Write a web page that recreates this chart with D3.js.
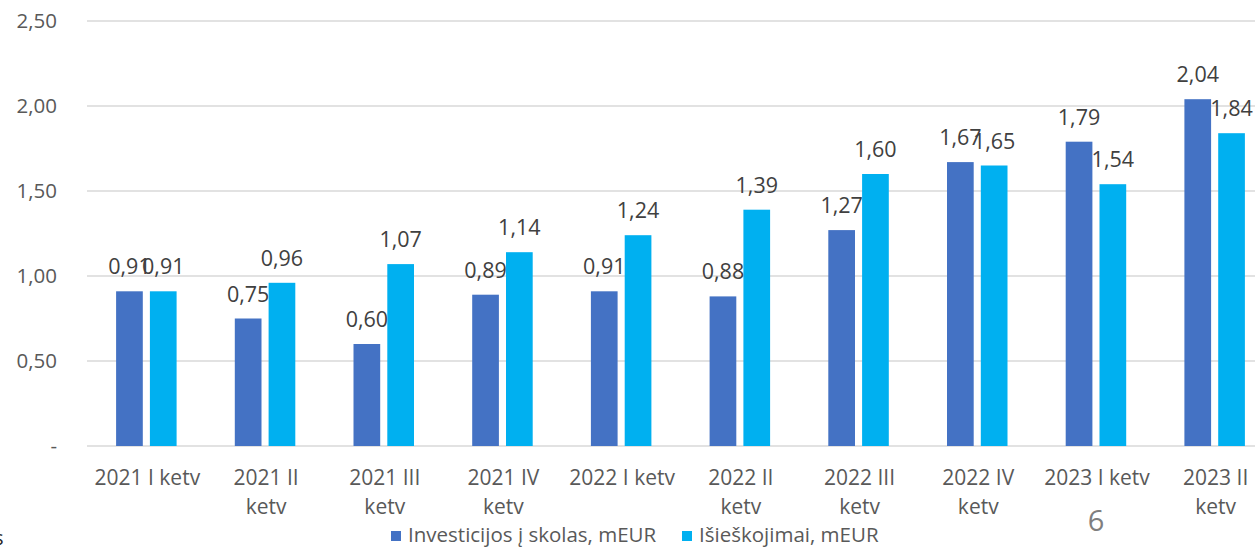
<!DOCTYPE html>
<html><head><meta charset="utf-8">
<script src="https://cdn.jsdelivr.net/npm/d3@7"></script>
<style>
html,body{margin:0;padding:0;background:#fff;overflow:hidden;}
text{font-family:"Open Sans","Liberation Sans",sans-serif;}
</style></head>
<body>
<svg id="chart" width="1255" height="548"></svg>
<script>
const categories = ["2021 I ketv","2021 II ketv","2021 III ketv","2021 IV ketv","2022 I ketv","2022 II ketv","2022 III ketv","2022 IV ketv","2023 I ketv","2023 II ketv"];
const seriesNames = ["Investicijos į skolas, mEUR","Išieškojimai, mEUR"];
const investicijos = [0.91,0.75,0.60,0.89,0.91,0.88,1.27,1.67,1.79,2.04];
const isieskojimai = [0.91,0.96,1.07,1.14,1.24,1.39,1.60,1.65,1.54,1.84];
const yTicks = [0,0.5,1,1.5,2,2.5];
const colors = ["#4472C4","#00B0F0"];

const svg = d3.select("#chart");
const fmt = v => v === 0 ? "-" : v.toFixed(2).replace(".", ",");

const y = d3.scaleLinear().domain([0,2.5]).range([446,21]);
const x0 = d3.scaleBand().domain(categories).range([87,1274]).padding(0);
const x1 = d3.scaleBand().domain([0,1]).range([0,60.5]).paddingInner(0.21).paddingOuter(0);

// gridlines
svg.append("g").selectAll("line").data(yTicks).join("line")
  .attr("x1",87).attr("x2",1255)
  .attr("y1",d=>y(d)).attr("y2",d=>y(d))
  .attr("stroke","#d9d9d9").attr("stroke-width",1.5);

// y axis labels
svg.append("g").selectAll("text").data(yTicks).join("text")
  .attr("x",57).attr("y",d=>y(d)+7)
  .attr("text-anchor","end")
  .attr("font-size",20.5).attr("fill","#595959")
  .text(fmt);

const series = [investicijos, isieskojimai];
const groups = svg.append("g").selectAll("g").data(categories).join("g")
  .attr("transform",c=>`translate(${x0(c)+x0.bandwidth()/2-30.25},0)`);

series.forEach((vals,si)=>{
  groups.append("rect")
    .attr("x",x1(si)).attr("width",x1.bandwidth())
    .attr("y",(c,i)=>y(vals[i])).attr("height",(c,i)=>y(0)-y(vals[i]))
    .attr("fill",colors[si]);
});
series.forEach((vals,si)=>{
  groups.append("text")
    .attr("x",x1(si)+x1.bandwidth()/2)
    .attr("y",(c,i)=>y(vals[i])-17)
    .attr("text-anchor","middle")
    .attr("font-size",21.5).attr("fill","#404040")
    .text((c,i)=>fmt(vals[i]));
});

// x labels with wrapping
const xl = svg.append("g").selectAll("text").data(categories).join("text")
  .attr("x",c=>x0(c)+x0.bandwidth()/2+1)
  .attr("y",485)
  .attr("text-anchor","middle")
  .attr("font-size",21).attr("fill","#595959");
xl.each(function(c){
  const t = d3.select(this);
  t.text(c);
  if (this.getComputedTextLength() > 110) {
    const words = c.split(" ");
    const last = words.pop();
    t.text(null);
    t.append("tspan").attr("x",t.attr("x")).attr("dy",0).text(words.join(" "));
    t.append("tspan").attr("x",t.attr("x")).attr("dy",29).text(last);
  }
});

// legend
const lg = svg.append("g");
const legX = [391,682];
seriesNames.forEach((n,i)=>{
  lg.append("rect").attr("x",legX[i]).attr("y",531).attr("width",10).attr("height",10).attr("fill",colors[i]);
  lg.append("text").attr("x",legX[i]+17).attr("y",542).attr("font-size",20.5).attr("fill","#595959").text(n);
});

// page number & stray text
svg.append("text").attr("x",1096).attr("y",531).attr("text-anchor","middle")
  .attr("font-size",29).attr("fill","#7f7f7f").text("6");
svg.append("text").attr("x",-6).attr("y",545).attr("font-size",20).attr("fill","#262626").text("s");
</script>
</body></html>
